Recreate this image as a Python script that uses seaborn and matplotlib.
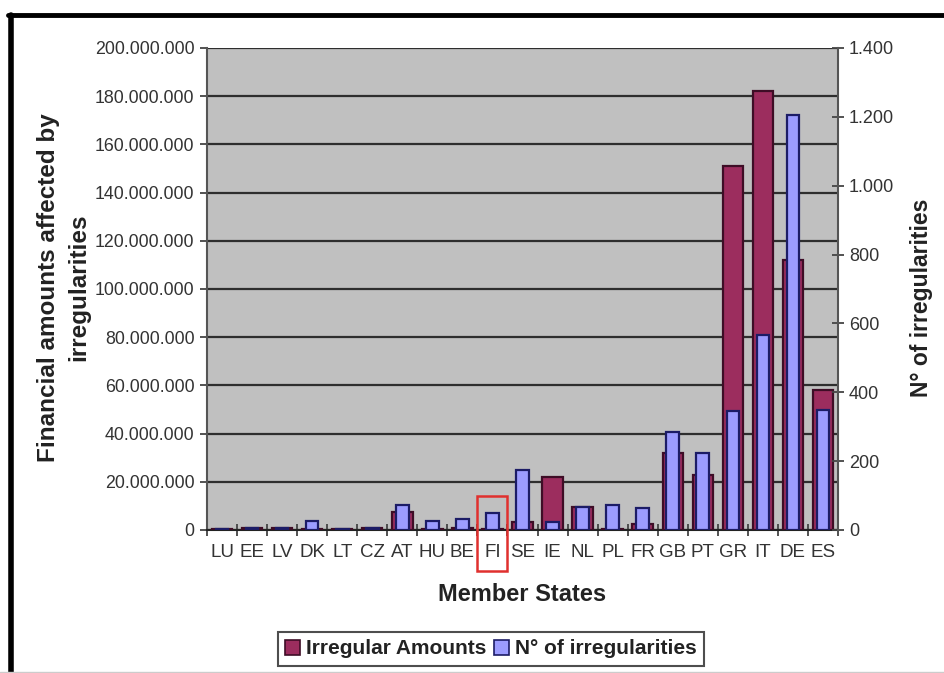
import matplotlib
matplotlib.use("Agg")
import matplotlib.pyplot as plt
from matplotlib.lines import Line2D
from matplotlib.patches import Rectangle
from matplotlib.ticker import FuncFormatter, MultipleLocator, FixedLocator
import matplotlib.transforms as mtransforms
import numpy as np
import pandas as pd
import seaborn as sns

# Member states and values per state
states = ["LU", "EE", "LV", "DK", "LT", "CZ", "AT", "HU", "BE", "FI",
          "SE", "IE", "NL", "PL", "FR", "GB", "PT", "GR", "IT", "DE", "ES"]
irregular_amounts = [300_000, 800_000, 900_000, 500_000, 300_000, 700_000,
                     7_600_000, 500_000, 900_000, 500_000, 3_400_000,
                     22_000_000, 9_400_000, 500_000, 2_500_000, 32_000_000,
                     22_800_000, 151_000_000, 182_000_000, 112_000_000,
                     58_000_000]
n_irregularities = [3, 6, 5, 26, 2, 6, 72, 27, 31, 50, 174, 24, 66, 72, 63,
                    284, 224, 346, 566, 1205, 350]
highlighted = "FI"

df = pd.DataFrame({"state": states, "amount": irregular_amounts,
                   "count": n_irregularities})

sns.set_theme(style="white")
plt.rcParams["font.family"] = ["Liberation Sans", "DejaVu Sans"]

W, H = 944, 673
fig = plt.figure(figsize=(W / 100, H / 100), dpi=100)
fig.patch.set_facecolor("white")

left, right, top, bottom = 207, 838, 48, 530
ax = fig.add_axes([left / W, 1 - bottom / H, (right - left) / W, (bottom - top) / H])
ax.set_facecolor("#c0c0c0")

red_fill, red_edge = "#9c2d5e", "#3e0d26"
blue_fill, blue_edge = "#9c9cff", "#1c1c66"

sns.barplot(data=df, x="state", y="amount", order=states, ax=ax,
            color=red_fill, saturation=1, width=0.68,
            edgecolor=red_edge, linewidth=1.6, zorder=3)

ax2 = ax.twinx()
sns.barplot(data=df, x="state", y="count", order=states, ax=ax2,
            color=blue_fill, saturation=1, width=0.42,
            edgecolor=blue_edge, linewidth=1.6, zorder=3)

ax.set_xlim(-0.5, len(states) - 0.5)
ax.set_ylim(0, 200_000_000)
ax2.set_ylim(0, 1400)

dot_fmt = FuncFormatter(lambda v, p: f"{int(round(v)):,}".replace(",", "."))
ax.yaxis.set_major_locator(MultipleLocator(20_000_000))
ax.yaxis.set_major_formatter(dot_fmt)
ax2.yaxis.set_major_locator(MultipleLocator(200))
ax2.yaxis.set_major_formatter(dot_fmt)

ax.grid(axis="y", color="#2e2e2e", linewidth=1.6, zorder=1)
ax.set_axisbelow(True)

for a in (ax, ax2):
    for s in a.spines.values():
        s.set_visible(False)
ax.spines["left"].set_visible(True)
ax.spines["left"].set_color("#555555")
ax.spines["left"].set_linewidth(1.5)
ax.spines["bottom"].set_visible(True)
ax.spines["bottom"].set_color("#222222")
ax.spines["bottom"].set_linewidth(1.5)
ax2.spines["right"].set_visible(True)
ax2.spines["right"].set_color("#555555")
ax2.spines["right"].set_linewidth(1.5)

tick_color = "#333333"
ax.tick_params(axis="y", which="major", direction="out", length=5, width=1.3,
               color="#444444", labelsize=12.8, labelcolor=tick_color, pad=4,
               left=True)
ax2.tick_params(axis="y", which="major", direction="inout", length=8, width=1.3,
                color="#444444", labelsize=13, labelcolor=tick_color, pad=4,
                right=True)

# category ticks sit between the bars
ax.set_xticks(np.arange(len(states)))
ax.set_xticklabels(states)
ax.xaxis.set_minor_locator(FixedLocator(np.arange(len(states) + 1) - 0.5))
ax.tick_params(axis="x", which="major", length=0, labelsize=13.5,
               labelcolor=tick_color, pad=10, bottom=False)
ax.tick_params(axis="x", which="minor", direction="inout", length=8, width=1.3,
               color="#444444", bottom=True)

ax.set_xlabel("Member States", fontsize=17, fontweight="bold", color="#222222",
              labelpad=16)
ax.set_ylabel("Financial amounts affected by\nirregularities", fontsize=17.5,
              fontweight="bold", color="#222222", linespacing=1.4,
              va="center", ha="center")
ax.yaxis.set_label_coords(-0.2266, 0.503)
ax2.set_ylabel("N° of irregularities", fontsize=16.5, fontweight="bold",
               color="#222222", va="center", ha="center")
ax2.yaxis.set_label_coords(1.133, 0.481)

# red frame around the highlighted state label
idx = states.index(highlighted)
trans = mtransforms.blended_transform_factory(ax.transData, ax.transAxes)
ax.add_patch(Rectangle((idx - 0.5, -0.085), 1.0, 0.155, transform=trans,
                       fill=False, edgecolor="#e0302e", linewidth=1.8,
                       clip_on=False, zorder=10))

# legend below the chart
handles = [Rectangle((0, 0), 1, 1, facecolor=red_fill, edgecolor=red_edge, linewidth=1.2),
           Rectangle((0, 0), 1, 1, facecolor=blue_fill, edgecolor=blue_edge, linewidth=1.2)]
leg = fig.legend(handles, ["Irregular Amounts", "N° of irregularities"],
                 loc="center", bbox_to_anchor=(491 / W, 1 - 649 / H), ncol=2,
                 frameon=True, fancybox=False, edgecolor="#222222",
                 prop={"size": 15, "weight": "bold"}, handlelength=0.7,
                 handleheight=0.7, handletextpad=0.3, columnspacing=0.4,
                 borderpad=0.35)
leg.get_frame().set_linewidth(1.5)
for t in leg.get_texts():
    t.set_color("#222222")

# outer frame of the chart image
fig.add_artist(Line2D([8 / W, 1], [1 - 15 / H, 1 - 15 / H], color="black",
                      linewidth=3.5, transform=fig.transFigure))
fig.add_artist(Line2D([10.5 / W, 10.5 / W], [0, 1 - 15 / H], color="black",
                      linewidth=4, transform=fig.transFigure))
fig.add_artist(Line2D([0, 1], [1.5 / H, 1.5 / H], color="#cccccc",
                      linewidth=1, transform=fig.transFigure))

fig.savefig("out.png", dpi=100)
